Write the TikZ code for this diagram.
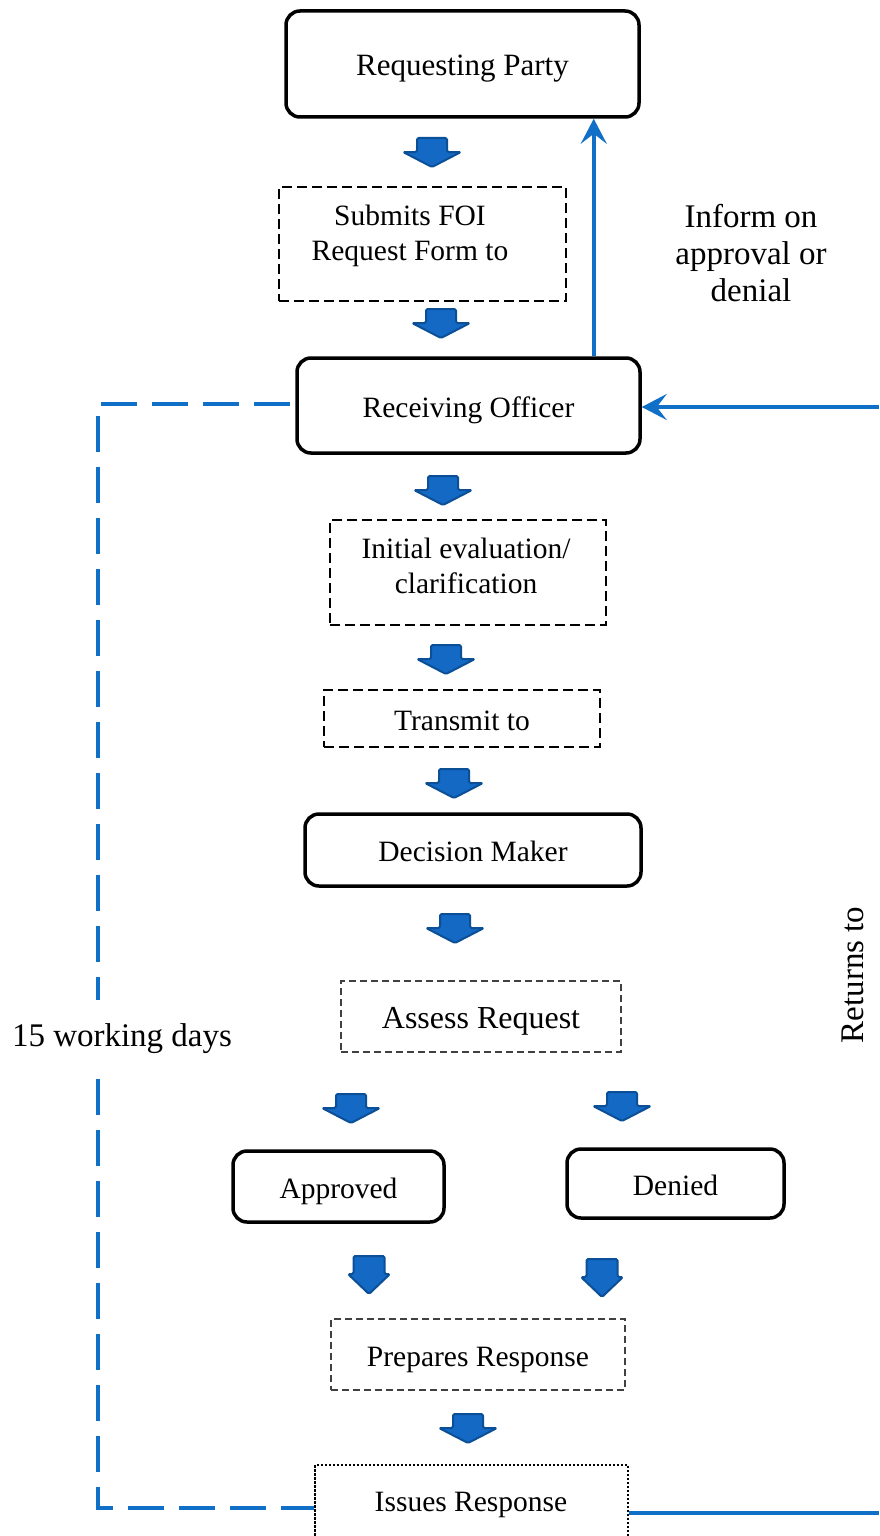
\documentclass[tikz,border=0pt]{standalone}
\usepackage{fontspec}
\setmainfont{Liberation Serif}
\usetikzlibrary{arrows.meta,calc}
\definecolor{lineblue}{HTML}{1070C8}
\definecolor{arrfill}{HTML}{1469C4}
\definecolor{arrdraw}{HTML}{0B4F97}
\newcommand\blockarrow[6]{% x, ytop, shaft half width, head half width, shaft height, head height
  \draw[arrdraw, fill=arrfill, line width=2pt, rounded corners=1.5pt, line join=round]
    (#1-#3,#2) -- (#1+#3,#2) -- (#1+#3,#2+#5) -- (#1+#4,#2+#5) -- (#1,#2+#5+#6)
    -- (#1-#4,#2+#5) -- (#1-#3,#2+#5) -- cycle;}
\newcommand\widearrow[2]{\blockarrow{#1}{#2}{15}{29}{14}{15}}
\newcommand\narrowarrow[2]{\blockarrow{#1}{#2}{15.5}{21}{18}{20}}
\tikzset{
  boxtext/.style={font=\fontsize{29.5}{35}\selectfont, align=center, inner sep=0pt},
  single/.style={text height=26pt, text depth=3pt},
  solidbox/.style={draw=black, line width=3.5pt, rounded corners=14pt, inner sep=0pt, boxtext, single},
  dashbox/.style={draw=black, line width=1.8pt, dash pattern=on 10pt off 5pt, inner sep=0pt, boxtext},
  finebox/.style={draw=black!75, line width=1.3pt, dash pattern=on 7pt off 4pt, inner sep=0pt, boxtext, single},
  dotbox/.style={draw=black, line width=1.1pt, dash pattern=on 2.5pt off 1.5pt, inner sep=0pt, boxtext},
  labeltext/.style={font=\fontsize{33}{37}\selectfont, align=center, inner sep=0pt},
  blueline/.style={draw=lineblue, line width=3.5pt},
  bluedash/.style={draw=lineblue, line width=3.5pt, dash pattern=on 36pt off 15pt},
  bluetip/.style={-{Stealth[length=25pt, width=26pt, inset=10pt]}},
}
\begin{document}
\begin{tikzpicture}[x=1pt, y=-1pt]
\useasboundingbox (0,0) rectangle (879,1536);
\clip (0,0) rectangle (879,1536);
\fill[white] (0,0) rectangle (879,1536);

% boxes
\node[solidbox, minimum width=353pt, minimum height=106pt] (rp) at (462.5,64) {\fontsize{31}{35}\selectfont Requesting Party};
\node[dashbox, minimum width=287pt, minimum height=114pt] (sub) at (422.5,244) {};
\node[boxtext] (subt) at (410,236) {Submits FOI\\Request Form to};
\node[solidbox, minimum width=343pt, minimum height=95pt] (ro) at (468.5,405.5) {Receiving Officer};
\node[dashbox, minimum width=276pt, minimum height=105pt] (ini) at (468,572.5) {};
\node[boxtext] (init) at (466,566) {Initial evaluation/\\clarification};
\node[dashbox, single, minimum width=276pt, minimum height=57pt] (tr) at (462,718.5) {Transmit to};
\node[solidbox, minimum width=336pt, minimum height=72pt] (dm) at (473,850) {Decision Maker};
\node[finebox, minimum width=280pt, minimum height=71pt] (ar) at (481,1016.5) {\fontsize{32}{36}\selectfont Assess Request};
\node[solidbox, minimum width=211pt, minimum height=71pt] (ap) at (338.5,1186.5) {Approved};
\node[solidbox, minimum width=217pt, minimum height=69pt] (de) at (675.5,1183.5) {Denied};
\node[finebox, minimum width=294pt, minimum height=71pt] (pr) at (478,1354.5) {Prepares Response};
\node[dotbox, minimum width=313pt, minimum height=86pt] (ir) at (471.5,1508) {};
\node[boxtext] (irt) at (471,1505) {Issues Response};

% block arrows
\widearrow{432}{138}
\widearrow{441}{309}
\widearrow{443}{476}
\widearrow{446}{645}
\widearrow{454}{769}
\widearrow{455}{914}
\widearrow{351}{1094}
\widearrow{622}{1092}
\narrowarrow{369}{1256}
\narrowarrow{602}{1259}
\widearrow{468}{1414}

% connectors
\coordinate (up) at ($(ro.north east)+(-48,0)$);
\draw[blueline, bluetip] (up) -- (up |- rp.south);
\coordinate (rin) at (879,407);
\draw[blueline, bluetip] (rin) -- (ro.east |- rin);
\coordinate (rout) at (879,1513);
\draw[blueline] (ir.east |- rout) -- (rout);
\coordinate (lt) at (98,404);
\coordinate (lb) at (98,1508);
\draw[bluedash] ($(ro.west |- lt)+(-5,0)$) -- (lt) -- (lb) -- (ir.west |- lb);

% labels
\node[labeltext] (inform) at (751,253) {Inform on\\approval or\\denial};
\node[labeltext, fill=white, minimum height=79pt, inner xsep=2pt] (days) at (122,1039) {15 working days};
\node[labeltext, rotate=90] (returns) at (853,975) {Returns to};
\end{tikzpicture}
\end{document}
